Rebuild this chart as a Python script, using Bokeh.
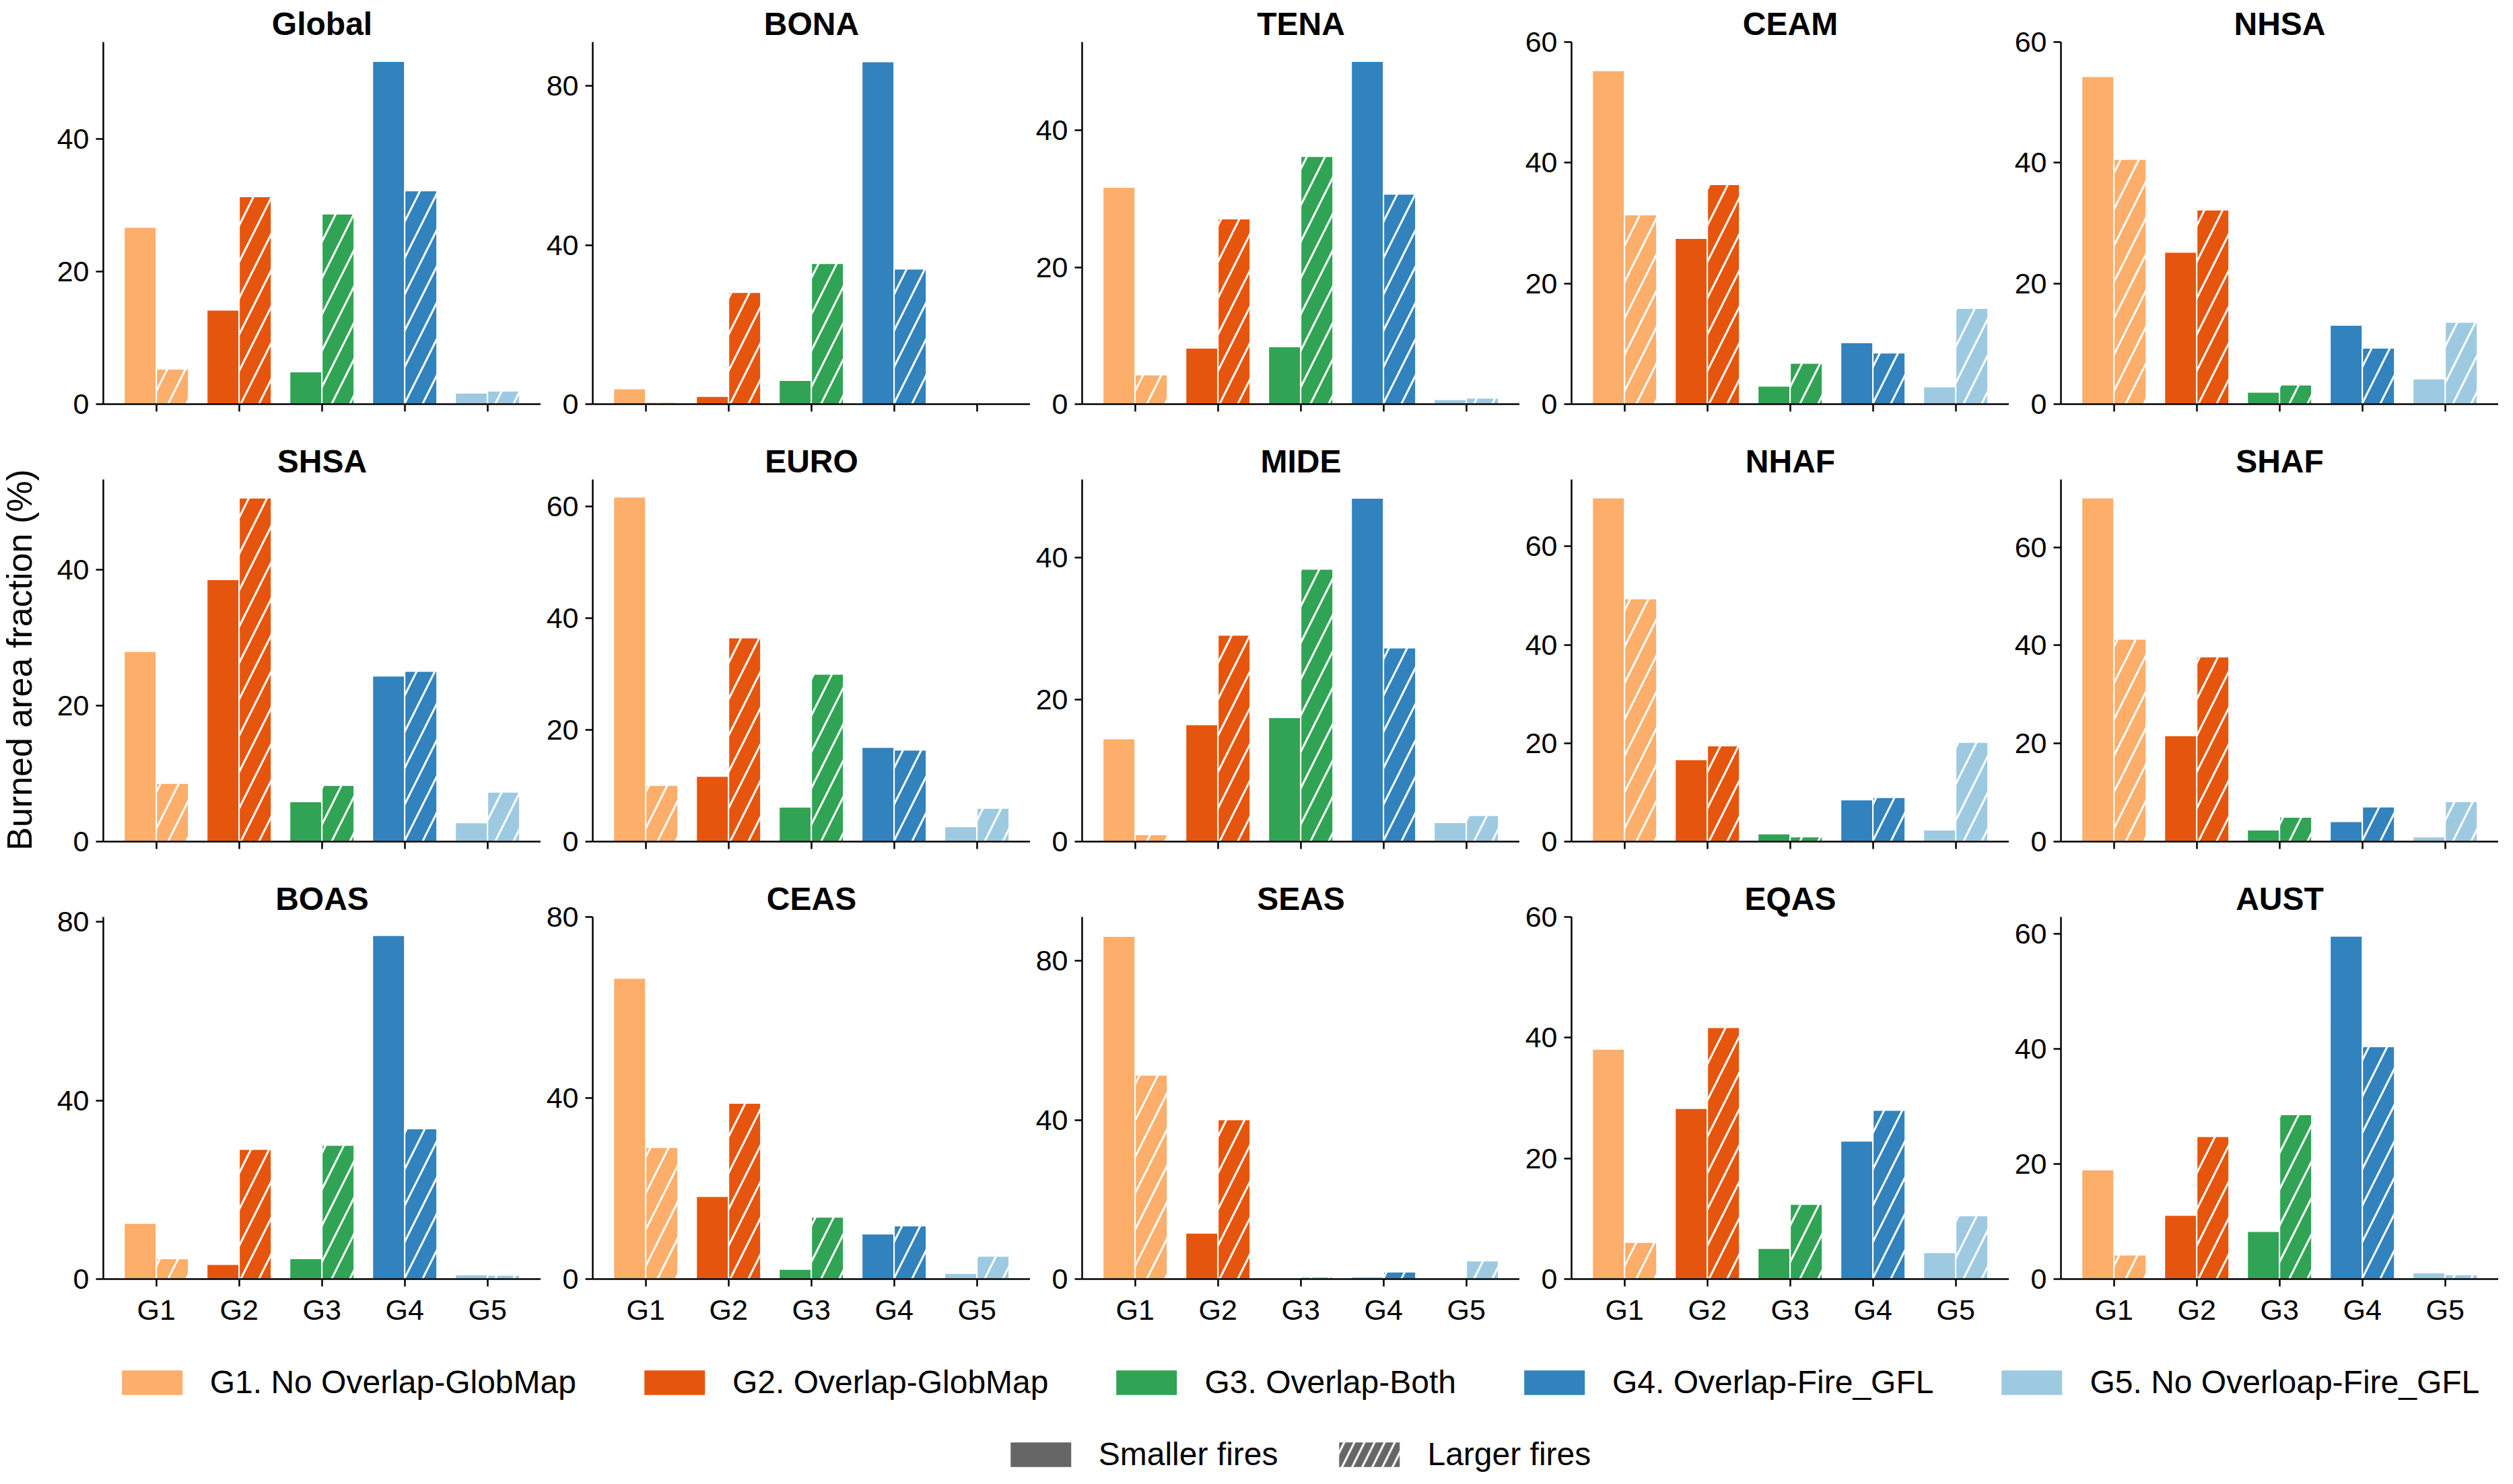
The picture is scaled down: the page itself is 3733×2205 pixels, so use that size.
import math

from bokeh.embed import file_html
from bokeh.layouts import column, row
from bokeh.models import ColumnDataSource, FixedTicker, Label, Legend, LegendItem, Range1d
from bokeh.plotting import figure
from bokeh.resources import INLINE
from bokeh.transform import dodge

# --- data (burned area fraction, %) ---
REGIONS = ["Global", "BONA", "TENA", "CEAM", "NHSA",
           "SHSA", "EURO", "MIDE", "NHAF", "SHAF",
           "BOAS", "CEAS", "SEAS", "EQAS", "AUST"]
GROUPS = ["G1", "G2", "G3", "G4", "G5"]
GROUP_NAMES = ["G1. No Overlap-GlobMap", "G2. Overlap-GlobMap", "G3. Overlap-Both",
               "G4. Overlap-Fire_GFL", "G5. No Overloap-Fire_GFL"]
COLORS = ["#fdae6b", "#e6550d", "#31a354", "#3182bd", "#9ecae1"]

# smaller fires (solid bars), one list per region, G1..G5
SMALLER = [
    [26.7, 14.2, 4.9, 51.7, 1.7],
    [3.9, 2.0, 6.0, 86.1, 0.35],
    [31.7, 8.2, 8.4, 50.1, 0.7],
    [55.3, 27.5, 3.0, 10.2, 2.9],
    [54.3, 25.2, 2.0, 13.1, 4.2],
    [28.0, 38.6, 5.9, 24.4, 2.8],
    [61.7, 11.7, 6.2, 16.9, 2.7],
    [14.5, 16.5, 17.5, 48.4, 2.7],
    [69.9, 16.7, 1.6, 8.5, 2.4],
    [70.1, 21.6, 2.4, 4.1, 1.0],
    [12.5, 3.3, 4.6, 77.0, 1.0],
    [66.5, 18.3, 2.2, 10.0, 1.3],
    [86.2, 11.6, 0.1, 0.5, 0.0],
    [38.1, 28.3, 5.1, 22.9, 4.4],
    [19.0, 11.1, 8.3, 59.6, 1.1],
]
# larger fires (hatched bars)
LARGER = [
    [5.3, 31.3, 28.7, 32.2, 2.0],
    [0.5, 28.1, 35.4, 34.0, 0.1],
    [4.3, 27.1, 36.2, 30.7, 0.9],
    [31.4, 36.4, 6.8, 8.5, 15.9],
    [40.6, 32.2, 3.2, 9.3, 13.6],
    [8.6, 50.6, 8.3, 25.1, 7.3],
    [10.1, 36.5, 30.0, 16.4, 6.0],
    [1.0, 29.1, 38.4, 27.3, 3.7],
    [49.4, 19.5, 1.0, 9.0, 20.2],
    [41.3, 37.7, 5.0, 7.1, 8.2],
    [4.6, 29.1, 30.0, 33.7, 0.9],
    [29.1, 38.9, 13.7, 11.8, 5.1],
    [51.3, 40.1, 0.5, 1.8, 4.6],
    [6.1, 41.7, 12.4, 28.0, 10.5],
    [4.2, 24.8, 28.6, 40.4, 0.8],
]
Y_MAX = [54.6, 91, 52.9, 60, 60, 53.3, 64.8, 51, 73.6, 73.8, 81.1, 80, 91, 60, 62.9]
Y_STEP = [20, 40, 20, 20, 20, 20, 20, 20, 20, 20, 40, 40, 40, 20, 20]

FONT = "Liberation Sans"
COL_W = 727
FRAME_H = 538
TOP = 62
BOTTOM = 50
BOTTOM_LAST = 74
LEFT = 77
BAR_W = 0.39


def panel(i):
    last_row = i >= 10
    bottom = BOTTOM_LAST if last_row else BOTTOM
    p = figure(width=COL_W, height=TOP + FRAME_H + bottom, title=REGIONS[i],
               x_range=Range1d(-0.64, 4.645), y_range=Range1d(0, Y_MAX[i]),
               toolbar_location=None, output_backend="svg",
               min_border_left=LEFT, min_border_right=0,
               min_border_top=TOP, min_border_bottom=bottom)
    src = ColumnDataSource(dict(x=list(range(len(GROUPS))), small=SMALLER[i],
                                large=LARGER[i], color=COLORS))
    p.vbar(x=dodge("x", -BAR_W / 2, range=p.x_range), top="small", width=BAR_W,
           source=src, fill_color="color", line_color="white", line_width=2)
    p.vbar(x=dodge("x", BAR_W / 2, range=p.x_range), top="large", width=BAR_W,
           source=src, fill_color="color", line_color="white", line_width=2,
           hatch_pattern="/", hatch_color="white", hatch_weight=3, hatch_scale=54)

    p.title.text_font = FONT
    p.title.text_font_size = "48px"
    p.title.text_font_style = "bold"
    p.title.text_color = "black"
    p.title.align = "center"
    p.title.standoff = 2

    p.xaxis.ticker = FixedTicker(ticks=list(range(len(GROUPS))))
    if last_row:
        p.xaxis.major_label_overrides = {k: g for k, g in enumerate(GROUPS)}
    else:
        p.xaxis.major_label_overrides = {k: "" for k in range(len(GROUPS))}
    p.yaxis.ticker = FixedTicker(ticks=list(range(0, 100, Y_STEP[i])))

    for ax in (p.xaxis, p.yaxis):
        ax.axis_line_width = 2.5
        ax.axis_line_color = "black"
        ax.major_tick_line_width = 2.5
        ax.major_tick_out = 11
        ax.major_tick_in = 0
        ax.minor_tick_line_color = None
        ax.major_label_text_font = FONT
        ax.major_label_text_font_size = "43px"
        ax.major_label_text_color = "black"
        ax.major_label_standoff = 10
    p.xgrid.visible = False
    p.ygrid.visible = False
    p.outline_line_color = None
    return p


def blank(width, height):
    b = figure(width=width, height=height, x_range=Range1d(0, 1), y_range=Range1d(0, 1),
               toolbar_location=None, output_backend="svg", min_border=0,
               x_axis_location=None, y_axis_location=None, outline_line_color=None)
    b.grid.visible = False
    return b


panels = [panel(i) for i in range(len(REGIONS))]
grid = column(row(*panels[0:5]), row(*panels[5:10]), row(*panels[10:15]))
grid_h = 2 * (TOP + FRAME_H + BOTTOM) + TOP + FRAME_H + BOTTOM_LAST

# y-axis title shared by all panels
ylab = blank(76, grid_h)
ylab.add_layout(Label(x=28, y=grid_h - 980, x_units="screen", y_units="screen",
                      text="Burned area fraction (%)", angle=math.pi / 2,
                      text_align="center", text_baseline="middle",
                      text_font=FONT, text_font_size="52px", text_color="black"))

# legends (swatch renderers sit outside the visible range)
LEG_H = 215
leg = figure(width=5 * COL_W, height=LEG_H, x_range=Range1d(0, 1), y_range=Range1d(0, 1),
             toolbar_location=None, output_backend="svg", min_border=0, min_border_left=64,
             x_axis_location=None, y_axis_location=None, outline_line_color=None)
leg.grid.visible = False
hidden = ColumnDataSource(dict(x=[5], top=[1]))
group_items = []
for name, c in zip(GROUP_NAMES, COLORS):
    r = leg.vbar(x="x", top="top", width=0.1, source=hidden, fill_color=c,
                 line_color="white", line_width=2)
    group_items.append(LegendItem(label=name, renderers=[r]))
r_small = leg.vbar(x="x", top="top", width=0.1, source=hidden, fill_color="#666666",
                   line_color="white", line_width=2)
r_large = leg.vbar(x="x", top="top", width=0.1, source=hidden, fill_color="#666666",
                   line_color="white", line_width=2, hatch_pattern="/",
                   hatch_color="white", hatch_weight=3, hatch_scale=30)
size_items = [LegendItem(label="Smaller fires", renderers=[r_small]),
              LegendItem(label="Larger fires", renderers=[r_large])]


def make_legend(items, location, margin, spacing):
    # bar swatches are drawn inset by 10% of the glyph box
    return Legend(items=items, orientation="horizontal", location=location, margin=margin,
                  spacing=spacing, glyph_width=115, glyph_height=48, label_standoff=29,
                  label_text_font=FONT, label_text_font_size="48px",
                  label_text_color="black", label_text_baseline="middle",
                  padding=0, border_line_color=None, background_fill_alpha=0)


leg.add_layout(make_legend(group_items, "top_center", 52, 88))
leg.add_layout(make_legend(size_items, "bottom_center", 1, 78))

page = column(row(ylab, grid), row(blank(76, LEG_H), leg))

open("out.html", "w").write(file_html(page, INLINE))
